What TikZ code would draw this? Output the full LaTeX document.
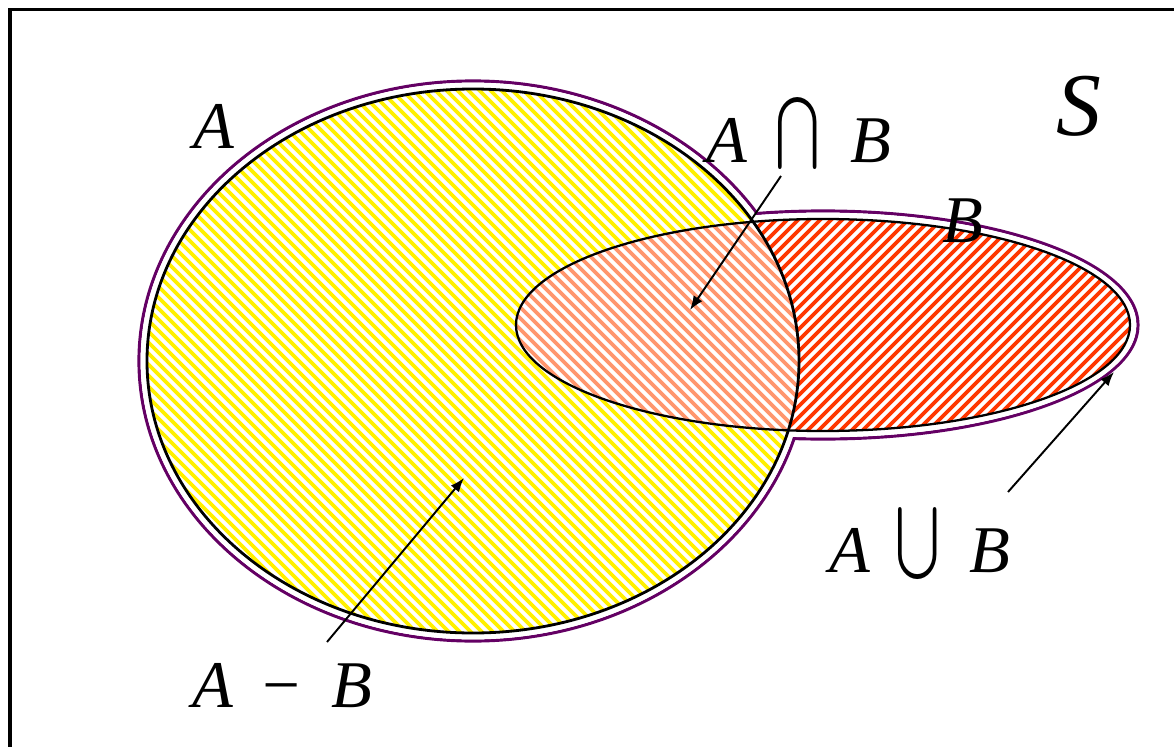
\documentclass[tikz,border=0pt]{standalone}
\usepackage{graphicx}
\usepackage{fontspec}
\newfontfamily\lblfont{Liberation Serif}
\usetikzlibrary{arrows.meta}
\definecolor{hatchyellow}{RGB}{255,240,0}
\definecolor{hatchred}{RGB}{255,55,0}
\definecolor{hatchsalmon}{RGB}{255,150,110}
\definecolor{unionpurple}{RGB}{100,0,100}
\tikzset{
  framestyle/.style={line width=2pt, line join=miter},
  purpline/.style={draw=unionpurple, line width=1.8pt},
  yelline/.style={draw=hatchyellow, line width=2.1pt},
  redline/.style={draw=hatchred, line width=2.1pt},
  salline/.style={draw=hatchsalmon, line width=2.1pt},
  aoutline/.style={draw=black, line width=1.6pt},
  boutline/.style={draw=black, line width=1.3pt},
  pointer/.style={draw=black, line width=1.1pt, -{Latex[length=8pt,width=6pt]}},
  lbl/.style={inner sep=0pt, anchor=base, font=\fontsize{60}{60}\lblfont\itshape},
}
\newcommand{\lblsc}[1]{\scalebox{0.633}{#1}}
\newcommand{\symcap}{\raisebox{-14.9pt}{\scalebox{4.8}[6.48]{$\bigcap$}}}
\newcommand{\symcup}{\raisebox{-14.9pt}{\scalebox{4.8}[6.48]{$\bigcup$}}}
\begin{document}
\begin{tikzpicture}[x=0.02cm, y=-0.02cm]
\useasboundingbox (0,0) rectangle (1174,747);
% frame
\draw[framestyle] (10,760) -- (10,9.5) -- (1190,9.5);
% purple union outline
\draw[purpline] (473,361) ellipse [x radius=334, y radius=280];
\draw[purpline] (823,325) ellipse [x radius=315, y radius=114];
\fill[white] (473,361) ellipse [x radius=332.4, y radius=278.4];
\fill[white] (823,325) ellipse [x radius=313.4, y radius=112.4];
% A hatch
\begin{scope}
  \clip (473,361) ellipse [x radius=326, y radius=272];
  \foreach \c in {-700,-689,...,900} \draw[yelline] (\c+60,60) -- (\c+700,700);
\end{scope}
% B hatch
\begin{scope}
  \clip (823,325) ellipse [x radius=307, y radius=106];
  \fill[white] (400,150) rectangle (1200,500);
  \foreach \c in {600,611,...,1800} \draw[redline] (\c-60,60) -- (\c-700,700);
\end{scope}
% intersection hatch
\begin{scope}
  \clip (473,361) ellipse [x radius=326, y radius=272];
  \clip (823,325) ellipse [x radius=307, y radius=106];
  \fill[white] (400,150) rectangle (1200,500);
  \foreach \c in {-700,-689,...,900} \draw[salline] (\c+60,60) -- (\c+700,700);
\end{scope}
% outlines
\draw[aoutline] (473,361) ellipse [x radius=326, y radius=272];
\draw[boutline] (823,325) ellipse [x radius=307, y radius=106];
% labels
\node[lbl] (labA) at (214,148) {\lblsc{A}};
\node[lbl] (labB) at (963,242) {\lblsc{B}};
\node[lbl] (labS) at (1079,135) {\scalebox{0.85}{S}};
\node[lbl] (labcap) at (799,162) {\lblsc{A\hspace{0.42em}\symcap\hspace{0.45em}B}};
\node[lbl] (labcup) at (920,572) {\lblsc{A\hspace{0.38em}\symcup\hspace{0.45em}B}};
\node[lbl] (labdiff) at (282,707) {\lblsc{A\hspace{0.38em}\char"2212\hspace{0.42em}B}};
% pointers
\coordinate (capstart) at (781,176);
\coordinate (captip) at (690,310);
\coordinate (diffstart) at (327,642);
\coordinate (difftip) at (464,478);
\coordinate (cupstart) at (1008,492);
\coordinate (cuptip) at (1114,372);
\draw[pointer] (capstart) -- (captip);
\draw[pointer] (diffstart) -- (difftip);
\draw[pointer] (cupstart) -- (cuptip);
\end{tikzpicture}
\end{document}
